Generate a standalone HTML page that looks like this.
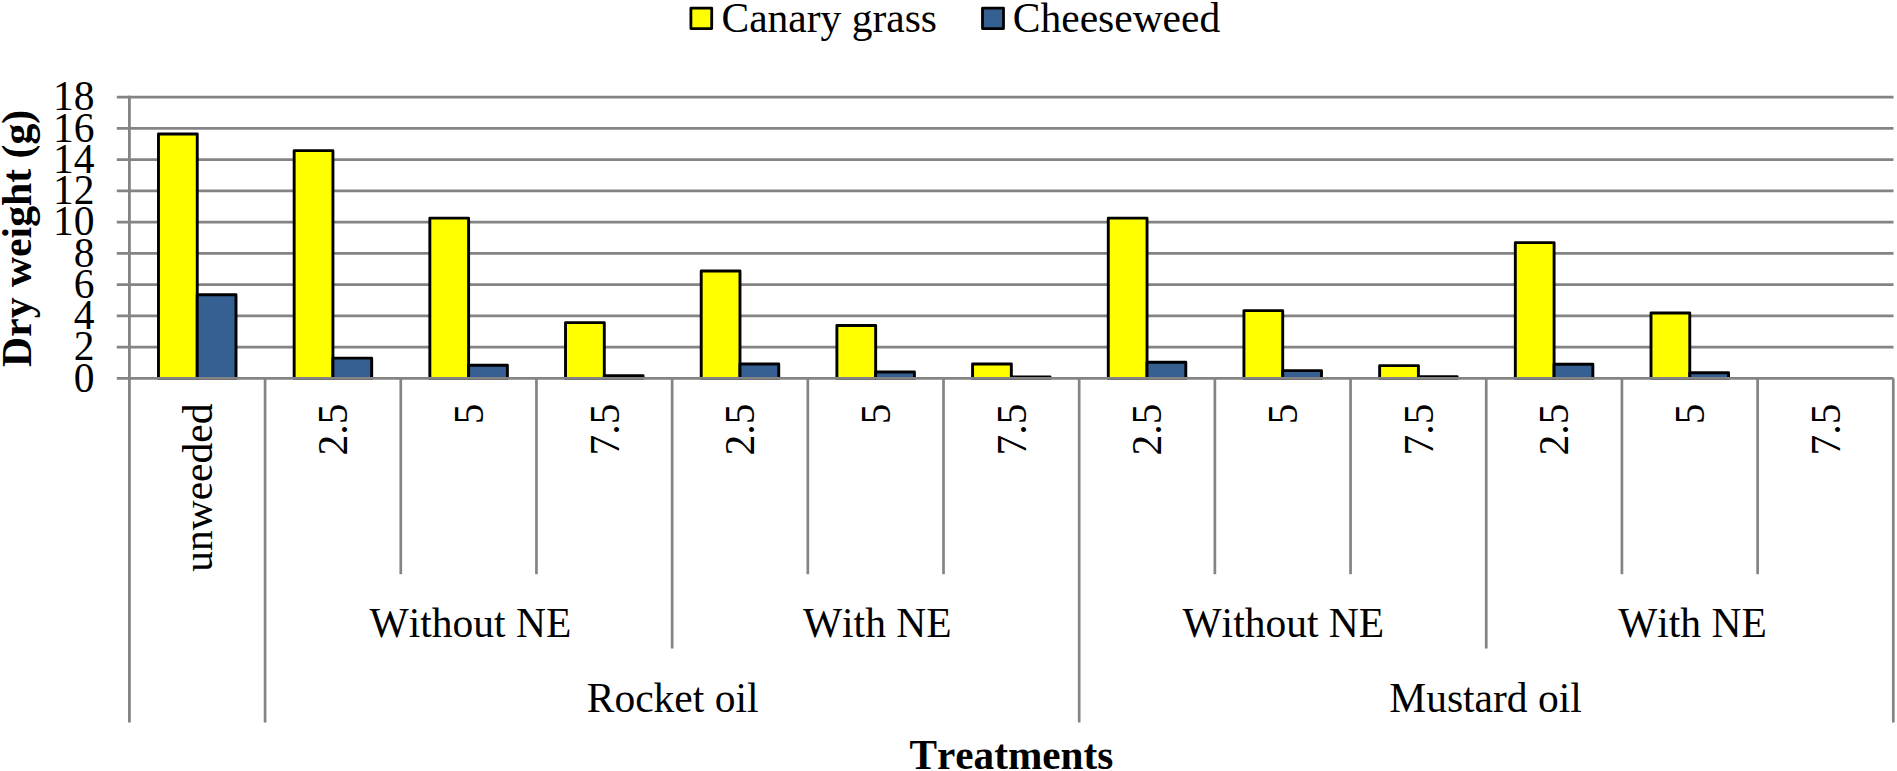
<!DOCTYPE html>
<html lang="en">
<head>
<meta charset="utf-8">
<title>Dry weight chart</title>
<style>
html,body{margin:0;padding:0;background:#fff;}
body{width:1897px;height:771px;overflow:hidden;}
svg{display:block;}
text{font-family:"Liberation Serif","Times New Roman",serif;font-size:41.5px;fill:#000;font-kerning:none;}
.b{font-weight:bold;}
</style>
</head>
<body>
<svg width="1897" height="771" viewBox="0 0 1897 771">
<rect x="0" y="0" width="1897" height="771" fill="#ffffff"/>
<g stroke="#848484" stroke-width="2.8" fill="none">
<line x1="116.8" y1="347.15" x2="1893.5" y2="347.15"/>
<line x1="116.8" y1="315.90" x2="1893.5" y2="315.90"/>
<line x1="116.8" y1="284.65" x2="1893.5" y2="284.65"/>
<line x1="116.8" y1="253.40" x2="1893.5" y2="253.40"/>
<line x1="116.8" y1="222.15" x2="1893.5" y2="222.15"/>
<line x1="116.8" y1="190.90" x2="1893.5" y2="190.90"/>
<line x1="116.8" y1="159.65" x2="1893.5" y2="159.65"/>
<line x1="116.8" y1="128.40" x2="1893.5" y2="128.40"/>
<line x1="116.8" y1="97.15" x2="1893.5" y2="97.15"/>
</g>
<g stroke="#000" stroke-width="2.9" stroke-linejoin="round">
<rect x="158.48" y="133.95" width="38.77" height="244.45" fill="#ffff00"/>
<rect x="197.24" y="294.75" width="38.77" height="83.65" fill="#376092"/>
<rect x="294.16" y="150.65" width="38.77" height="227.75" fill="#ffff00"/>
<rect x="332.93" y="358.15" width="38.77" height="20.25" fill="#376092"/>
<rect x="429.84" y="218.15" width="38.77" height="160.25" fill="#ffff00"/>
<rect x="468.61" y="365.25" width="38.77" height="13.15" fill="#376092"/>
<rect x="565.53" y="322.65" width="38.77" height="55.75" fill="#ffff00"/>
<rect x="604.30" y="375.65" width="38.77" height="2.75" fill="#376092"/>
<rect x="701.21" y="270.95" width="38.77" height="107.45" fill="#ffff00"/>
<rect x="739.98" y="363.95" width="38.77" height="14.45" fill="#376092"/>
<rect x="836.90" y="325.45" width="38.77" height="52.95" fill="#ffff00"/>
<rect x="875.67" y="371.95" width="38.77" height="6.45" fill="#376092"/>
<rect x="972.58" y="363.95" width="38.77" height="14.45" fill="#ffff00"/>
<rect x="1011.35" y="376.95" width="38.77" height="1.45" fill="#376092"/>
<rect x="1108.27" y="218.15" width="38.77" height="160.25" fill="#ffff00"/>
<rect x="1147.03" y="362.25" width="38.77" height="16.15" fill="#376092"/>
<rect x="1243.95" y="310.65" width="38.77" height="67.75" fill="#ffff00"/>
<rect x="1282.72" y="370.65" width="38.77" height="7.75" fill="#376092"/>
<rect x="1379.64" y="365.65" width="38.77" height="12.75" fill="#ffff00"/>
<rect x="1418.40" y="376.75" width="38.77" height="1.65" fill="#376092"/>
<rect x="1515.32" y="242.65" width="38.77" height="135.75" fill="#ffff00"/>
<rect x="1554.09" y="364.25" width="38.77" height="14.15" fill="#376092"/>
<rect x="1651.01" y="312.95" width="38.77" height="65.45" fill="#ffff00"/>
<rect x="1689.77" y="372.75" width="38.77" height="5.65" fill="#376092"/>
</g>
<g stroke="#848484" fill="none">
<line x1="116.8" y1="378.40" x2="1893.5" y2="378.40" stroke-width="2.8"/>
<line x1="129.40" y1="95.75" x2="129.40" y2="722.6" stroke-width="2.8"/>
<line x1="265.08" y1="378.40" x2="265.08" y2="722.6" stroke-width="2.7"/>
<line x1="400.77" y1="378.40" x2="400.77" y2="574.2" stroke-width="2.7"/>
<line x1="536.45" y1="378.40" x2="536.45" y2="574.2" stroke-width="2.7"/>
<line x1="672.14" y1="378.40" x2="672.14" y2="648.5" stroke-width="2.7"/>
<line x1="807.82" y1="378.40" x2="807.82" y2="574.2" stroke-width="2.7"/>
<line x1="943.51" y1="378.40" x2="943.51" y2="574.2" stroke-width="2.7"/>
<line x1="1079.19" y1="378.40" x2="1079.19" y2="722.6" stroke-width="2.7"/>
<line x1="1214.88" y1="378.40" x2="1214.88" y2="574.2" stroke-width="2.7"/>
<line x1="1350.56" y1="378.40" x2="1350.56" y2="574.2" stroke-width="2.7"/>
<line x1="1486.25" y1="378.40" x2="1486.25" y2="648.5" stroke-width="2.7"/>
<line x1="1621.93" y1="378.40" x2="1621.93" y2="574.2" stroke-width="2.7"/>
<line x1="1757.62" y1="378.40" x2="1757.62" y2="574.2" stroke-width="2.7"/>
<line x1="1893.30" y1="378.40" x2="1893.30" y2="722.6" stroke-width="2.7"/>
</g>
<rect x="690.9" y="8.2" width="20.8" height="20.4" fill="#ffff00" stroke="#000" stroke-linejoin="round" stroke-width="2.8"/>
<text x="721.5" y="31.7">Canary grass</text>
<rect x="982.5" y="8.2" width="21.0" height="20.4" fill="#376092" stroke="#000" stroke-linejoin="round" stroke-width="2.8"/>
<text x="1012.8" y="31.7">Cheeseweed</text>
<text x="94.6" y="391.50" text-anchor="end">0</text>
<text x="94.6" y="360.25" text-anchor="end">2</text>
<text x="94.6" y="329.00" text-anchor="end">4</text>
<text x="94.6" y="297.75" text-anchor="end">6</text>
<text x="94.6" y="266.50" text-anchor="end">8</text>
<text x="94.6" y="235.25" text-anchor="end">10</text>
<text x="94.6" y="204.00" text-anchor="end">12</text>
<text x="94.6" y="172.75" text-anchor="end">14</text>
<text x="94.6" y="141.50" text-anchor="end">16</text>
<text x="94.6" y="110.25" text-anchor="end">18</text>
<text class="b" style="font-size:41.7px" transform="translate(31,366.9) rotate(-90)">Dry weight (g)</text>
<text transform="translate(211.54,403.6) rotate(-90)" text-anchor="end">unweeded</text>
<text transform="translate(347.23,403.6) rotate(-90)" text-anchor="end">2.5</text>
<text transform="translate(482.91,403.6) rotate(-90)" text-anchor="end">5</text>
<text transform="translate(618.60,403.6) rotate(-90)" text-anchor="end">7.5</text>
<text transform="translate(754.28,403.6) rotate(-90)" text-anchor="end">2.5</text>
<text transform="translate(889.97,403.6) rotate(-90)" text-anchor="end">5</text>
<text transform="translate(1025.65,403.6) rotate(-90)" text-anchor="end">7.5</text>
<text transform="translate(1161.33,403.6) rotate(-90)" text-anchor="end">2.5</text>
<text transform="translate(1297.02,403.6) rotate(-90)" text-anchor="end">5</text>
<text transform="translate(1432.70,403.6) rotate(-90)" text-anchor="end">7.5</text>
<text transform="translate(1568.39,403.6) rotate(-90)" text-anchor="end">2.5</text>
<text transform="translate(1704.07,403.6) rotate(-90)" text-anchor="end">5</text>
<text transform="translate(1839.76,403.6) rotate(-90)" text-anchor="end">7.5</text>
<text x="470.41" y="637.2" text-anchor="middle">Without NE</text>
<text x="877.27" y="637.2" text-anchor="middle">With NE</text>
<text x="1283.32" y="637.2" text-anchor="middle">Without NE</text>
<text x="1692.47" y="637.2" text-anchor="middle">With NE</text>
<text x="672.64" y="711.8" text-anchor="middle">Rocket oil</text>
<text x="1485.55" y="711.8" text-anchor="middle">Mustard oil</text>
<text class="b" style="font-size:41.25px" x="1011.4" y="768.5" text-anchor="middle">Treatments</text>
</svg>
</body>
</html>
